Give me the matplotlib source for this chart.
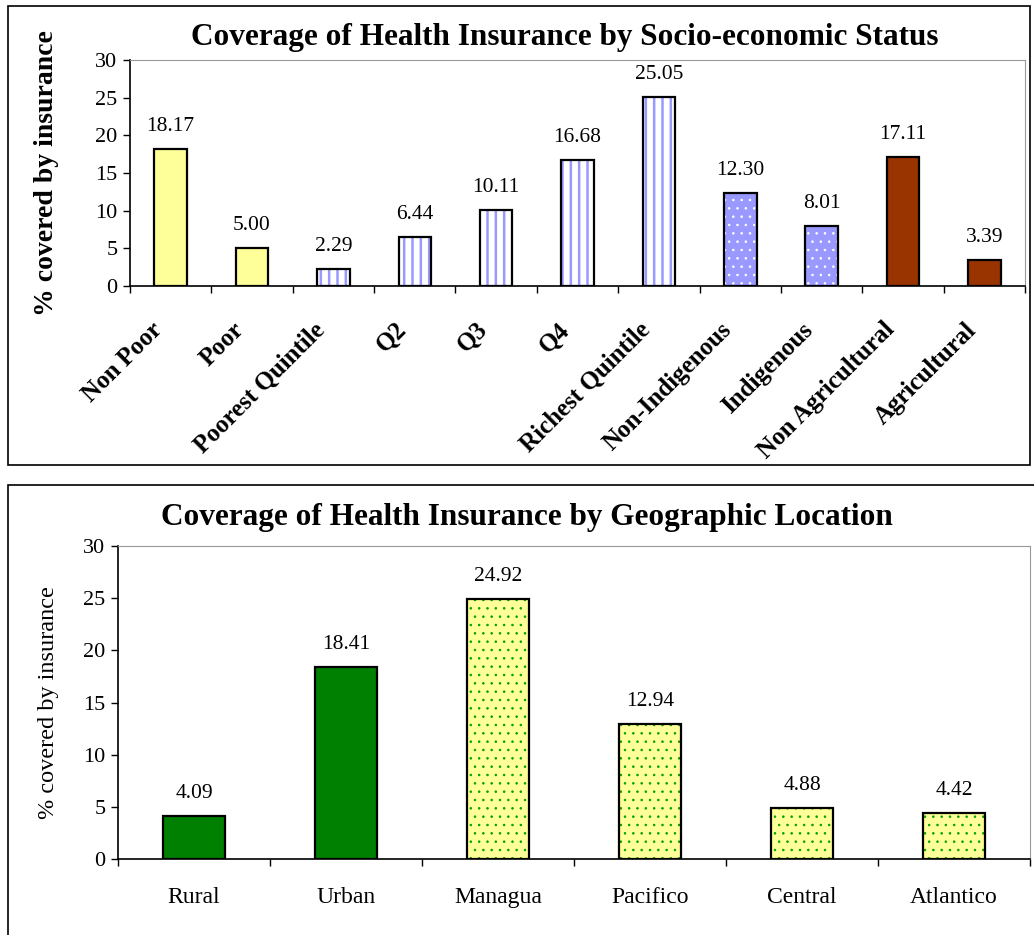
import matplotlib
matplotlib.use("Agg")
import matplotlib.pyplot as plt
import numpy as np
from matplotlib.patches import Rectangle
from matplotlib.transforms import ScaledTranslation

plt.rcParams['font.family'] = ['Liberation Serif', 'DejaVu Serif']

# socio-economic data
ses_labels = ["Non Poor", "Poor", "Poorest Quintile", "Q2", "Q3", "Q4",
              "Richest Quintile", "Non-Indigenous", "Indigenous",
              "Non Agricultural", "Agricultural"]
ses_values = [18.17, 5.00, 2.29, 6.44, 10.11, 16.68, 25.05, 12.30, 8.01, 17.11, 3.39]
ses_group = ["poor", "poor", "quint", "quint", "quint", "quint", "quint",
             "indig", "indig", "agri", "agri"]

# geographic data
geo_labels = ["Rural", "Urban", "Managua", "Pacifico", "Central", "Atlantico"]
geo_values = [4.09, 18.41, 24.92, 12.94, 4.88, 4.42]
geo_group = ["area", "area", "region", "region", "region", "region"]

# fill, hatch, hatch colour, hatch width
styles = {
    "poor": ("#FFFF99", None, None, 0),
    "quint": ("white", "||", "#9999FF", 1.8),
    "indig": ("#9999FF", "..", "white", 0.6),
    "agri": ("#993300", None, None, 0),
    "area": ("#008000", None, None, 0),
    "region": ("#FFFF99", "..", "#00A000", 0.6),
}

fig = plt.figure(figsize=(10.34, 9.35), dpi=100)

# panel frames
fig.patches.append(Rectangle((8 / 1034, (935 - 465) / 935), 1022 / 1034, 459 / 935,
                             transform=fig.transFigure, fill=False, ec="black", lw=1.2))
fig.patches.append(Rectangle((8 / 1034, -0.01), 1030 / 1034, (935 - 485) / 935 + 0.01,
                             transform=fig.transFigure, fill=False, ec="black", lw=1.2))


def draw_bars(ax, values, groups, width):
    x = np.arange(len(values))
    for xi, v, g in zip(x, values, groups):
        fc, hatch, hc, hw = styles[g]
        if hatch:
            plt.rcParams['hatch.linewidth'] = hw
            b = ax.bar(xi, v, width, color=fc, hatch=hatch, edgecolor=hc, linewidth=0, zorder=2)
            for p in b:
                if hasattr(p, "set_hatch_linewidth"):
                    p.set_hatch_linewidth(hw)
            ax.bar(xi, v, width, fill=False, edgecolor="black", linewidth=1.6, zorder=3)
        else:
            ax.bar(xi, v, width, color=fc, edgecolor="black", linewidth=1.6, zorder=3)
        ax.annotate("%.2f" % v, (xi, v), xytext=(0, 13), textcoords="offset points",
                    ha="center", va="baseline", fontsize=15.5)
    return x


def style_axes(ax, n):
    ax.set_xlim(-0.5, n - 0.5)
    ax.set_ylim(0, 30)
    ax.set_yticks(range(0, 31, 5))
    ax.set_xticks(np.arange(-0.5, n, 1.0), minor=True)
    ax.tick_params(axis="x", which="major", length=0)
    ax.tick_params(axis="x", which="minor", length=5, width=1, direction="out")
    ax.tick_params(axis="y", length=5, width=1, direction="out", labelsize=16, pad=4)
    ax.spines["top"].set_color("#999999")
    ax.spines["right"].set_color("#999999")
    for s in ["left", "bottom"]:
        ax.spines[s].set_linewidth(1.2)


# top chart
ax1 = fig.add_axes([130 / 1034, (935 - 286) / 935, 895 / 1034, 226 / 935])
x1 = draw_bars(ax1, ses_values, ses_group, 0.4)
style_axes(ax1, len(ses_values))
ax1.set_xticks(x1)
ax1.set_xticklabels(ses_labels, rotation=45, ha="right", va="center",
                    rotation_mode="anchor", fontsize=18, fontweight="bold")
ax1.tick_params(axis="x", which="major", pad=29)
shift = ScaledTranslation(-0.12, 0, fig.dpi_scale_trans)
for lab in ax1.get_xticklabels():
    lab.set_transform(lab.get_transform() + shift)
ax1.set_ylabel("% covered by insurance", fontsize=20, fontweight="bold")
ax1.yaxis.set_label_coords(-0.079, 0.5)
fig.text(565 / 1034, 1 - 37 / 935, "Coverage of Health Insurance by Socio-economic Status",
         ha="center", va="center", fontsize=22.5, fontweight="bold")

# bottom chart
ax2 = fig.add_axes([118 / 1034, (935 - 859) / 935, 912 / 1034, 313 / 935])
x2 = draw_bars(ax2, geo_values, geo_group, 0.41)
style_axes(ax2, len(geo_values))
ax2.set_xticks(x2)
ax2.set_xticklabels(geo_labels, fontsize=17)
ax2.tick_params(axis="x", which="major", pad=20)
ax2.set_ylabel("% covered by insurance", fontsize=17.5)
ax2.yaxis.set_label_coords(-0.065, 0.5)
fig.text(527 / 1034, 1 - 517 / 935, "Coverage of Health Insurance by Geographic Location",
         ha="center", va="center", fontsize=22.5, fontweight="bold")

fig.savefig("out.png", dpi=100)
